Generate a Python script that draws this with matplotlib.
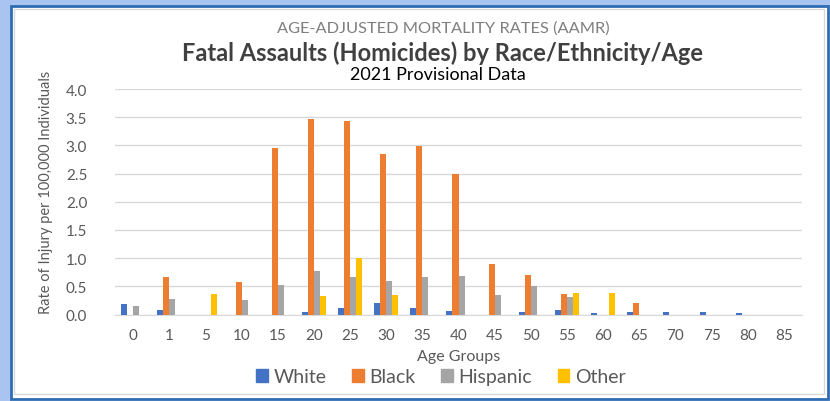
import matplotlib
matplotlib.use("Agg")
import matplotlib.pyplot as plt
import matplotlib.patches as mpatches
import numpy as np

plt.rcParams['font.family'] = ['Lato', 'DejaVu Sans']

age_groups = ['0', '1', '5', '10', '15', '20', '25', '30', '35', '40', '45', '50', '55', '60', '65', '70', '75', '80', '85']
white = [0.18, 0.08, 0.0, 0.0, 0.0, 0.05, 0.11, 0.21, 0.12, 0.06, 0.0, 0.04, 0.08, 0.02, 0.04, 0.05, 0.05, 0.02, 0.0]
black = [0.0, 0.66, 0.0, 0.58, 2.96, 3.47, 3.44, 2.84, 2.99, 2.49, 0.90, 0.71, 0.36, 0.0, 0.21, 0.0, 0.0, 0.0, 0.0]
hispanic = [0.15, 0.27, 0.0, 0.26, 0.53, 0.77, 0.67, 0.59, 0.67, 0.68, 0.35, 0.51, 0.31, 0.0, 0.0, 0.0, 0.0, 0.0, 0.0]
other = [0.0, 0.0, 0.37, 0.0, 0.0, 0.33, 1.0, 0.35, 0.0, 0.0, 0.0, 0.0, 0.38, 0.38, 0.0, 0.0, 0.0, 0.0, 0.0]
series_names = ['White', 'Black', 'Hispanic', 'Other']
colors = ['#4472C4', '#ED7D31', '#A5A5A5', '#FFC000']
y_ticks = [0.0, 0.5, 1.0, 1.5, 2.0, 2.5, 3.0, 3.5, 4.0]

W, H = 830, 402
fig = plt.figure(figsize=(W / 100, H / 100), dpi=100)
fig.patch.set_facecolor('white')

def fx(px):
    return px / W

def fy(py):
    return 1 - py / H

# frame decorations
fig.patches.append(mpatches.Rectangle((0, 0), fx(11), 1, transform=fig.transFigure,
                                      facecolor='#A9C4F0', edgecolor='none', zorder=-3))
fig.patches.append(mpatches.Rectangle((0, fy(7)), 1, 7 / H, transform=fig.transFigure,
                                      facecolor='#A9C4F0', edgecolor='none', zorder=-3))
fig.patches.append(mpatches.Rectangle((fx(11), fy(400)), fx(817), 393 / H, transform=fig.transFigure,
                                      facecolor='white', edgecolor='#2E6DB4', linewidth=2.0, zorder=-2))
fig.patches.append(mpatches.Rectangle((fx(14), fy(395)), fx(810), 385 / H, transform=fig.transFigure,
                                      facecolor='none', edgecolor='#D9D9D9', linewidth=1.0, zorder=-1))

left, right, top, bottom = 115, 802, 90, 315.6
ax = fig.add_axes([fx(left), fy(bottom), fx(right - left), (bottom - top) / H])
ax.set_facecolor('none')

n = len(age_groups)
x = np.arange(n)
w = 1 / 6
for i, (vals, name, c) in enumerate(zip([white, black, hispanic, other], series_names, colors)):
    ax.bar(x + (i - 1.5) * w, vals, width=w, color=c, label=name, zorder=3)

ax.set_xlim(-0.5, n - 0.5)
ax.set_ylim(0, 4.0)
ax.set_yticks(y_ticks)
ax.set_yticklabels([f'{v:.1f}' for v in y_ticks])
ax.set_xticks(x)
ax.set_xticklabels(age_groups)
ax.yaxis.grid(True, color='#D9D9D9', linewidth=1.0, zorder=0)
ax.set_axisbelow(True)
for s in ['top', 'right', 'left']:
    ax.spines[s].set_visible(False)
ax.spines['bottom'].set_color('#D9D9D9')
ax.tick_params(axis='both', length=0, colors='#595959', labelsize=11)
ax.tick_params(axis='x', pad=10)
ax.tick_params(axis='y', pad=20)

ax.set_xlabel('Age Groups', fontsize=11.5, color='#595959', labelpad=5)
fig.text(fx(46), fy(192), 'Rate of Injury per 100,000 Individuals', rotation=90,
         ha='center', va='center', fontsize=10.5, color='#595959')

fig.text(fx(443), fy(29), 'AGE-ADJUSTED MORTALITY RATES (AAMR)', ha='center', va='center',
         fontsize=11.8, color='#7F7F7F')
fig.text(fx(442), fy(53), 'Fatal Assaults (Homicides) by Race/Ethnicity/Age', ha='center', va='center',
         fontsize=17, color='#404040', fontweight='bold')
fig.text(fx(438), fy(75), '2021 Provisional Data', ha='center', va='center',
         fontsize=13, color='black')

handles = [mpatches.Patch(color=c, label=nm) for c, nm in zip(colors, series_names)]
fig.legend(handles=handles, loc='center', bbox_to_anchor=(fx(441), fy(378)), ncol=4,
           frameon=False, fontsize=14, handlelength=0.6, handleheight=0.6,
           handletextpad=0.3, columnspacing=1.3, labelcolor='#595959')

fig.savefig('out.png', dpi=100)
